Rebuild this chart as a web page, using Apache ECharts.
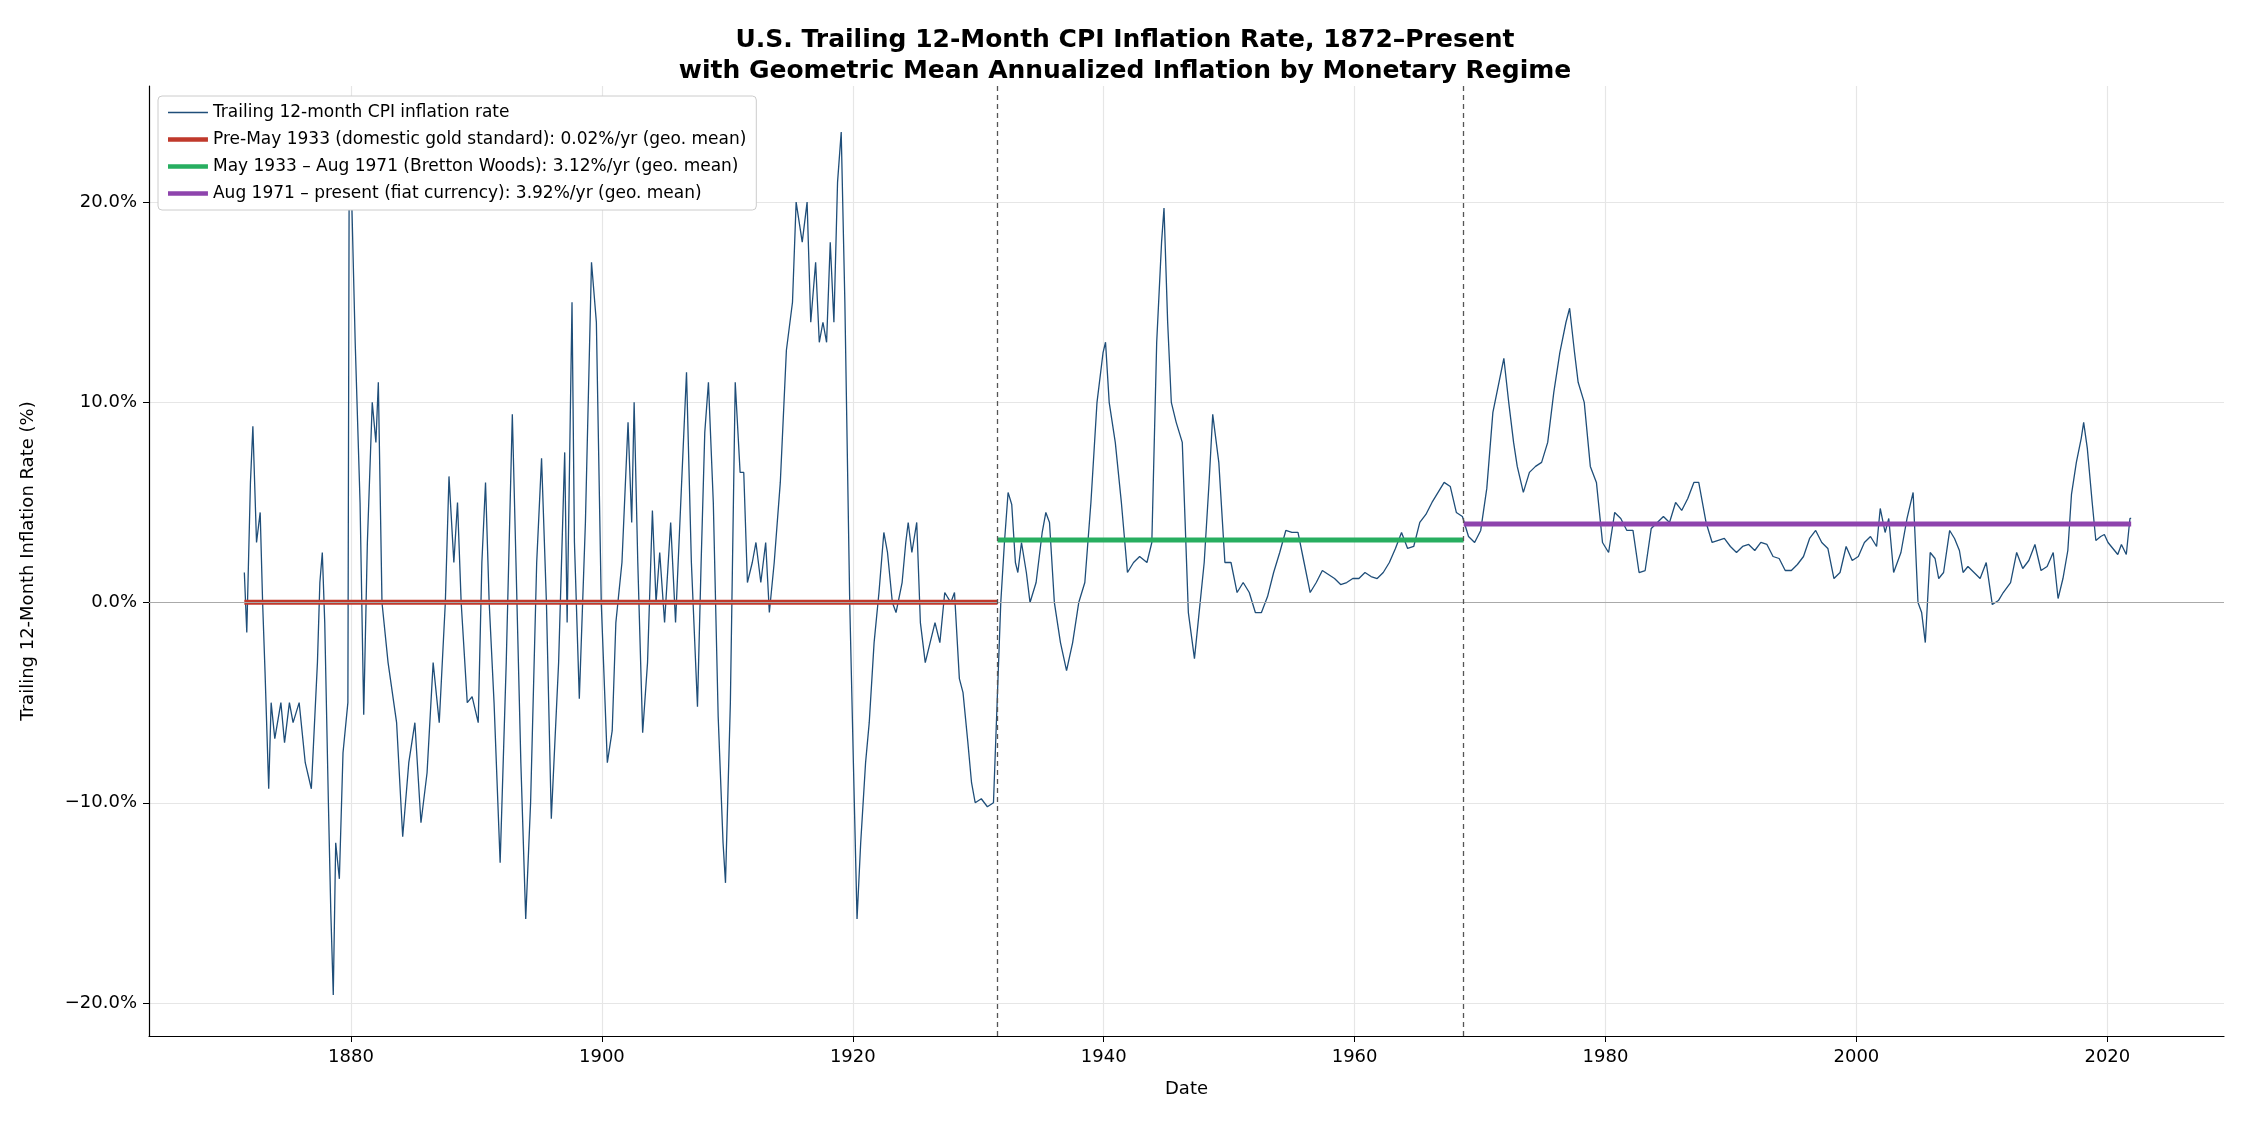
<!DOCTYPE html>
<html>
<head>
<meta charset="utf-8">
<script src="https://cdn.jsdelivr.net/npm/echarts@6/dist/echarts.min.js"></script>
<style>html,body{margin:0;padding:0;background:#fff}#chart{width:2250px;height:1125px}</style>
</head>
<body>
<div id="chart"></div>
<script>
// trailing 12-month CPI inflation, [year, %]
var cpiYears = [1871.5,1871.7,1872,1872.2,1872.5,1872.8,1873,1873.2,1873.5,1873.7,1874,1874.5,1874.8,1875.2,1875.5,1876,1876.5,1877,1877.5,1877.7,1877.9,1878.1,1878.4,1878.6,1878.8,1879,1879.3,1879.6,1880,1880.1,1880.3,1880.6,1881,1881.3,1881.6,1882,1882.3,1882.5,1882.8,1883.3,1884,1884.5,1885,1885.5,1886,1886.5,1887,1887.5,1888,1888.3,1888.7,1889,1889.3,1889.8,1890.2,1890.7,1891,1891.3,1891.6,1892,1892.5,1893,1893.5,1893.8,1894.2,1894.6,1895,1895.5,1895.9,1896.3,1896.7,1897.3,1897.8,1898,1898.4,1898.6,1899,1899.5,1900,1900.4,1900.8,1901.3,1901.7,1902,1902.5,1903,1903.3,1903.5,1903.8,1904.2,1904.6,1905,1905.3,1905.6,1906,1906.5,1906.9,1907.4,1907.8,1908.2,1908.7,1909,1909.3,1909.6,1910,1910.4,1910.8,1911,1911.4,1911.8,1912.2,1912.5,1912.8,1913.2,1913.5,1913.9,1914.3,1914.6,1915,1915.5,1916,1916.5,1916.8,1917.3,1917.7,1918,1918.4,1918.7,1919,1919.3,1919.6,1919.9,1920.2,1920.5,1920.8,1921.2,1921.5,1921.8,1922.1,1922.5,1922.8,1923.2,1923.6,1924,1924.3,1924.7,1925,1925.5,1925.8,1926,1926.3,1926.7,1927,1927.4,1927.8,1928.2,1928.6,1929,1929.5,1929.8,1930.2,1930.5,1930.9,1931.2,1931.5,1932,1932.5,1933,1933.3,1933.6,1933.9,1934.2,1934.5,1934.8,1935,1935.3,1935.7,1936,1936.5,1937,1937.3,1937.6,1938,1938.5,1939,1939.5,1940,1940.5,1941,1941.5,1942,1942.2,1942.5,1943,1943.5,1944,1944.5,1945,1945.6,1946,1946.4,1946.8,1947,1947.3,1947.6,1948,1948.5,1949,1949.5,1949.8,1950.3,1950.7,1951,1951.5,1952,1952.5,1953,1953.5,1954,1954.5,1955,1955.5,1956,1956.5,1957,1957.5,1958,1958.5,1959,1959.5,1960,1960.5,1961,1961.5,1962,1962.5,1963,1963.5,1964,1964.5,1965,1965.5,1966,1966.5,1967,1967.5,1968,1968.5,1969,1969.5,1970,1970.5,1971,1971.5,1972,1972.5,1973,1973.5,1974,1974.5,1974.9,1975.3,1975.7,1976,1976.5,1977,1977.5,1978,1978.5,1979,1979.5,1980,1980.3,1980.7,1981,1981.5,1982,1982.5,1983,1983.5,1984,1984.5,1985,1985.5,1986,1986.5,1987,1987.5,1988,1988.5,1989,1989.5,1990,1990.5,1990.9,1991.5,1992,1992.5,1993,1993.5,1994,1994.5,1995,1995.5,1996,1996.5,1997,1997.5,1998,1998.5,1999,1999.5,2000,2000.5,2001,2001.5,2002,2002.5,2003,2003.5,2004,2004.5,2005,2005.5,2005.8,2006.2,2006.5,2006.9,2007.5,2008,2008.5,2008.9,2009.2,2009.5,2009.9,2010.3,2010.6,2011,2011.5,2011.9,2012.3,2012.6,2013,2013.5,2014,2014.5,2015,2015.5,2015.9,2016.5,2017,2017.5,2018,2018.5,2019,2019.5,2020,2020.4,2020.8,2021.2,2021.5,2021.9,2022.3,2022.5,2022.8,2023.2,2023.5,2023.9,2024.2,2024.5,2024.9,2025.3,2025.6,2026,2026.3,2026.4];
var cpiRates = [1.5,-1.5,6,8.8,3,4.5,0,-3.5,-9.3,-5,-6.8,-5,-7,-5,-6,-5,-8,-9.3,-3,1,2.5,-1,-10,-15.5,-19.6,-12,-13.8,-7.5,-5,20,20.5,13,5,-5.6,3,10,8,11,0,-3,-6,-11.7,-8,-6,-11,-8.5,-3,-6,0,6.3,2,5,0,-5,-4.7,-6,2,6,0,-5,-13,-3,9.4,2,-8,-15.8,-10,2,7.2,0,-10.8,-3,7.5,-1,15,3,-4.8,4,17,14,0,-8,-6.4,-1,2,9,4,10,2,-6.5,-3,4.6,0,2.5,-1,4,-1,6,11.5,2,-5.2,2,8.5,11,5,-5.7,-12,-14,-5,11,6.5,6.5,1,2,3,1,3,-0.5,2,6,12.6,15,20,18,20,14,17,13,14,13,18,14,21,23.5,15,0,-8,-15.8,-12,-8,-6,-2,0.5,3.5,2.5,0,-0.5,1,3,4,2.5,4,-1,-3,-2,-1,-2,0.5,0,0.5,-3.8,-4.5,-7,-9,-10,-9.8,-10.2,-10,-5,0,3,5.5,4.9,2,1.5,3,1.5,0,1,3.5,4.5,4,0,-2,-3.4,-2,0,1,5,10,12.5,13,10,8,5,1.5,2,2.3,2,3,13,18,19.7,14,10,9,8,-0.5,-2.8,-1,2,6,9.4,7,2,2,0.5,1,0.5,-0.5,-0.5,0.3,1.5,2.5,3.6,3.5,3.5,2,0.5,1,1.6,1.4,1.2,0.9,1,1.2,1.2,1.5,1.3,1.2,1.5,2,2.7,3.5,2.7,2.8,4,4.4,5,5.5,6,5.8,4.5,4.3,3.3,3,3.6,5.7,9.5,11,12.2,10,8,6.8,5.5,6.5,6.8,7,8,10.5,12.5,14,14.7,12.5,11,10,6.8,6,3,2.5,4.5,4.2,3.6,3.6,1.5,1.6,3.7,4,4.3,4,5,4.6,5.2,6,6,4,3,3.1,3.2,2.8,2.5,2.8,2.9,2.6,3,2.9,2.3,2.2,1.6,1.6,1.9,2.3,3.2,3.6,3,2.7,1.2,1.5,2.8,2.1,2.3,3,3.3,2.8,4.7,3.5,4.2,1.5,2.5,4.2,5.5,0,-0.5,-2,2.5,2.2,1.2,1.5,3.6,3.2,2.6,1.5,1.8,1.5,1.2,2,-0.1,0.1,0.5,1,2.5,1.7,2.1,2.9,1.6,1.8,2.5,0.2,1.2,2.6,5.4,7,8.2,9,7.7,5,3.1,3.3,3.4,3,2.7,2.4,2.9,2.4,4.2,4.2];

var regimeNames = ['Pre-May 1933 (domestic gold standard): 0.02%/yr (geo. mean)',
  'May 1933 – Aug 1971 (Bretton Woods): 3.12%/yr (geo. mean)',
  'Aug 1971 – present (fiat currency): 3.92%/yr (geo. mean)'];
var regimeStart = [1871.5, 1933.33, 1971.6];
var regimeEnd = [1933.33, 1971.6, 2026.4];
var regimeMean = [0.02, 3.12, 3.92];
var regimeColors = ['#c0392b', '#27ae60', '#8e44ad'];
var xTicks = [1880, 1900, 1920, 1940, 1960, 1980, 2000, 2020];
var yTicks = [-20, -10, 0, 10, 20];

var font = 'DejaVu Sans';
var byId = function(id){ return document.getElementById(id); };

// the picture's date axis runs tighter than the years I read: first point 1871.5 sits
// where it is drawn, the last one (2026.4) is drawn at about 2021.9 on the ticks
var axisYear = function(y){ return 1871.5 + (y - 1871.5) * (2021.9 - 1871.5) / (2026.4 - 1871.5); };

var lineIcon = function(h){
	var a = (10 - h) / 2, b = a + h;
	return 'path://M0,0L40,0L40,0.01L0,0.01Z M0,' + a + 'L40,' + a + 'L40,' + b + 'L0,' + b + 'Z M0,10L40,10L40,10.01L0,10.01Z';
};

var series = [{
	name: 'Trailing 12-month CPI inflation rate',
	type: 'line',
	symbol: 'none',
	data: cpiYears.map(function(y, i){ return [axisYear(y), cpiRates[i]]; }),
	lineStyle: {color: '#1f4e79', width: 1.3},
	itemStyle: {color: '#1f4e79'},
	z: 3,
	markLine: {
		silent: true, symbol: 'none', label: {show: false},
		data: [
			{yAxis: 0, lineStyle: {color: '#aaaaaa', type: 'solid', width: 1.2}},
			{xAxis: axisYear(regimeStart[1]), lineStyle: {color: '#555', type: [5, 4], width: 1.3}},
			{xAxis: axisYear(regimeStart[2]), lineStyle: {color: '#555', type: [5, 4], width: 1.3}}
		]
	}
}];
for (var i = 0; i < regimeNames.length; i++) {
	series.push({
		name: regimeNames[i],
		type: 'line',
		symbol: 'none',
		data: [[axisYear(regimeStart[i]), regimeMean[i]], [axisYear(regimeEnd[i]), regimeMean[i]]],
		lineStyle: {color: regimeColors[i], width: 5},
		itemStyle: {color: regimeColors[i]},
		z: 4
	});
}

var legendData = series.map(function(s, k){
	return {name: s.name, icon: lineIcon(k === 0 ? 1.3 : 4.5)};
});

var chartOption = {
	backgroundColor: '#fff',
	animation: false,
	title: {
		text: 'U.S. Trailing 12-Month CPI Inflation Rate, 1872–Present\nwith Geometric Mean Annualized Inflation by Monetary Regime',
		left: 'center', top: 20,
		textStyle: {fontFamily: font, fontSize: 25, fontWeight: 'bold', color: '#000', lineHeight: 31}
	},
	legend: {
		orient: 'vertical', left: 158, top: 96,
		itemWidth: 40, itemHeight: 10, itemGap: 10,
		padding: [8, 10, 8, 10],
		backgroundColor: '#fff', borderColor: '#cccccc', borderWidth: 1, borderRadius: 4,
		textStyle: {fontFamily: font, fontSize: 17, color: '#000'},
		data: legendData
	},
	grid: {left: 149, right: 26, top: 86, bottom: 89},
	xAxis: {
		type: 'value', min: 1863.9, max: 2029.3,
		name: 'Date', nameLocation: 'middle', nameGap: 44,
		nameTextStyle: {fontFamily: font, fontSize: 18, color: '#000'},
		axisLine: {onZero: false, lineStyle: {color: '#000', width: 1.2}},
		axisTick: {show: true, customValues: xTicks, length: 6, lineStyle: {color: '#000'}},
		axisLabel: {customValues: xTicks, fontFamily: font, fontSize: 18, color: '#000', margin: 12,
			formatter: function(v){ return String(Math.round(v)); }},
		splitLine: {show: true, lineStyle: {color: '#e6e6e6', width: 1.2}}
	},
	yAxis: {
		type: 'value', min: -21.65, max: 25.8,
		name: 'Trailing 12-Month Inflation Rate (%)', nameLocation: 'middle', nameGap: 112,
		nameTextStyle: {fontFamily: font, fontSize: 18, color: '#000'},
		axisLine: {show: true, lineStyle: {color: '#000', width: 1.2}},
		axisTick: {show: true, customValues: yTicks, length: 6, lineStyle: {color: '#000'}},
		axisLabel: {customValues: yTicks, fontFamily: font, fontSize: 18, color: '#000', margin: 12,
			formatter: function(v){ return (v < 0 ? '−' : '') + Math.abs(v).toFixed(1) + '%'; }},
		splitLine: {show: true, lineStyle: {color: '#e6e6e6', width: 1.2}}
	},
	series: series
};

var chart = echarts.init(byId('chart'));
chart.setOption(chartOption);
</script>
</body>
</html>
